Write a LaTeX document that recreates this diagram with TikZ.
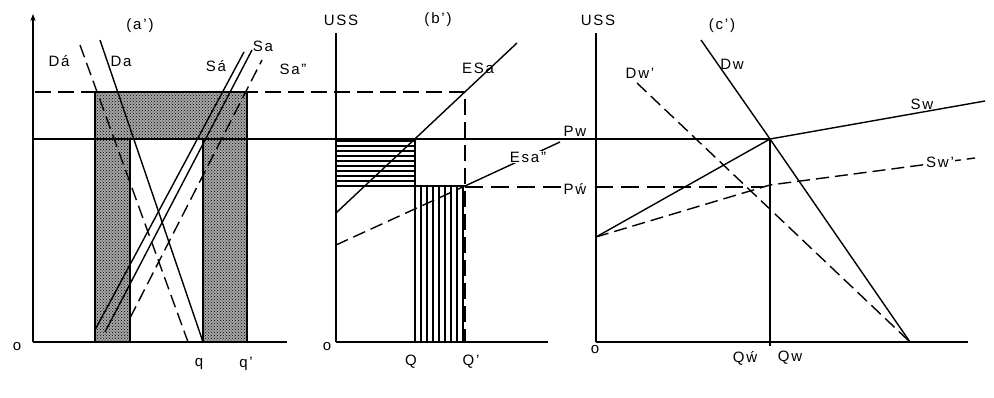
\documentclass[tikz,border=0pt]{standalone}
\usepackage{fontspec}
\setsansfont[LetterSpace=12]{Liberation Sans}
\usetikzlibrary{arrows.meta, patterns}
\tikzset{
  curve/.style={line width=1.4pt},        % supply and demand lines
  axis line/.style={line width=2pt},      % axes
  long dash/.style={curve, dash pattern=on 13pt off 6pt},
  lbl/.style={font=\sffamily\fontsize{15}{15}\selectfont, inner sep=1pt},
  stipple/.style={pattern=crosshatch dots, preaction={fill=black!35}},
}

\begin{document}
\begin{tikzpicture}[x=1pt, y=-1pt]
    \useasboundingbox (0,0) rectangle (994,397);

    % Origins and price levels
    \coordinate (oa) at (33,342);
    \coordinate (ob) at (336,342);
    \coordinate (oc) at (596,342);
    \coordinate (pwc) at (770,139);

    % Panel (a'): stippled area
    \draw[stipple, line width=1.3pt] (95,92) -- (247,92) -- (247,342) -- (203,342)
        -- (203,139) -- (130,139) -- (130,342) -- (95,342) -- cycle;

    % Panel (b'): hatched areas
    \foreach \y in {141,146,...,186} {
      \draw[line width=2.2pt] (336,\y) -- (415,\y);
    }
    \draw[line width=1.3pt] (415,139) -- (415,186);
    \foreach \x in {415,421,...,463} {
      \draw[line width=1.4pt] (\x,186) -- (\x,342);
    }
    \draw[line width=1.3pt] (415,186) -- (465,186);

    % Axes
    \draw[axis line, -{Stealth[length=7pt]}] (oa) -- (33,14);
    \draw[axis line] (oa) -- (287,342);
    \draw[axis line] (ob) -- (336,33);
    \draw[axis line] (ob) -- (548,342);
    \draw[axis line] (oc) -- (596,33);
    \draw[axis line] (oc) -- (968,342);

    % Price levels
    \draw[long dash, line width=1.6pt, dash pattern=on 16pt off 7pt] (35,92) -- (465,92) -- (465,342);
    \draw[curve, line width=1.7pt] (33,139) -- (pwc);
    \draw[long dash, line width=1.8pt, dash pattern=on 18pt off 8pt] (465,187) -- (763,187);

    % Panel (a'): demand and supply
    \draw[curve] (100,40) -- (203,342);
    \draw[long dash] (80,45) -- (188,342);
    \draw[curve] (95,330) -- (244,52);
    \draw[curve] (105,332) -- (252,50);
    \draw[long dash] (130,318) -- (262,60);

    % Panel (b'): excess supply
    \draw[curve] (336,213) -- (517,43);
    \draw[long dash] (336,245) -- (465,186);
    \draw[curve] (465,186) -- (560,142);

    % Panel (c'): world market
    \draw[curve] (701,40) -- (pwc) -- (910,342);
    \draw[long dash] (637,83) -- (910,342);
    \draw[curve] (596,237) -- (pwc) -- (985,101);
    \draw[long dash] (596,237) -- (770,185) -- (975,158);
    \draw[curve] (pwc) -- (770,346);

    % Labels
    \node[lbl] (ta) at (140,26) {(a’)};
    \node[lbl] (tb) at (438,20) {(b’)};
    \node[lbl] (tc) at (722,26) {(c’)};
    \node[lbl] (ussb) at (341,20) {USS};
    \node[lbl] (ussc) at (598,20) {USS};
    \node[lbl] (o1) at (17,347) {o};
    \node[lbl] (o2) at (327,347) {o};
    \node[lbl] (o3) at (595,350) {o};
    \node[lbl] (daq) at (59,61) {Dá};
    \node[lbl] (da) at (121,61) {Da};
    \node[lbl] (saq) at (216,66) {Sá};
    \node[lbl] (sa) at (263,46) {Sa};
    \node[lbl] (sapp) at (293,69) {Sa"};
    \node[lbl] (q) at (199,364) {q};
    \node[lbl] (qq) at (246,364) {q’};
    \node[lbl] (bq) at (411,362) {Q};
    \node[lbl] (bqq) at (471,362) {Q’};
    \node[lbl] (esa) at (478,68) {ESa};
    \node[lbl, fill=white] (esapp) at (528,157) {Esa"};
    \node[lbl] (pw) at (575,131) {Pw};
    \node[lbl, fill=white] (pwq) at (575,189) {Pẃ};
    \node[lbl] (dw) at (732,64) {Dw};
    \node[lbl] (dwq) at (640,73) {Dw’};
    \node[lbl] (sw) at (922,104) {Sw};
    \node[lbl, fill=white] (swq) at (940,162) {Sw’};
    \node[lbl] (qwq) at (745,358) {Qẃ};
    \node[lbl] (qw) at (790,358) {Qw};
\end{tikzpicture}
\end{document}
